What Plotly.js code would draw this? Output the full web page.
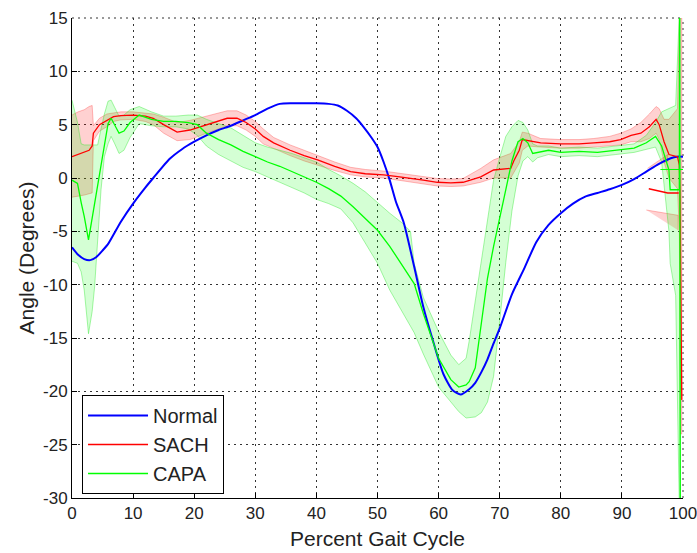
<!DOCTYPE html>
<html>
<head>
<meta charset="utf-8">
<script src="https://cdn.plot.ly/plotly-3.0.1.min.js"></script>
<style>html,body{margin:0;padding:0;background:#fff;}#chart{width:697px;height:553px;}</style>
</head>
<body>
<div id="chart"></div>
<script>
// ---- Normal ----
const normalX = [0,1,2,3,4,5,6,8,10,12,13.3,16,18,20,22,24,26,28,30,32,34,36,38,40,42,43.5,45,46.5,47.7,49,50,51,52,53,54.3,56,57.5,59.2,60.8,62.3,63.6,65,66,67,68,69,70,72,74,76,78,80,82,84,86,88,90,92,94,96,98,99,100];
const normalY = [-6.5,-7.2,-7.6,-7.7,-7.4,-6.8,-6.1,-4.1,-2.4,-0.9,0.0,1.8,2.7,3.4,4.0,4.5,4.9,5.4,5.9,6.5,6.95,7.0,7.0,7.0,6.95,6.8,6.3,5.6,4.8,3.8,2.9,1.5,-0.2,-2.2,-4.2,-8.3,-12.1,-15.5,-18.4,-19.9,-20.3,-19.8,-19.2,-18.2,-17.0,-15.5,-14.1,-10.9,-8.5,-6.0,-4.4,-3.3,-2.4,-1.75,-1.4,-1.05,-0.65,-0.1,0.6,1.3,1.85,2.0,2.0];

// ---- SACH ----
const sachX = [0,1,2,2.8,3.3,3.5,4.5,5.7,6.8,8,10,12,13.3,15,17.2,19.3,22,25.4,27,28.5,30,31.3,33,35.7,38,40.2,43,45.6,48,51,53,55.4,57.5,59.8,62,64,66.9,69,71.8,72.3,73.2,73.7,74.6,76.7,80,83,85.4,88,89.8,91.5,93.1,94.5,95.6,96.1,96.9,97.7,99.1,99.4,99.5,99.6,99.7,99.8];
const sachMean = [2.0,2.2,2.4,2.6,3.0,4.2,5.0,5.4,5.75,5.85,5.9,5.8,5.6,5.0,4.3,4.5,5.0,5.6,5.6,5.2,4.6,3.9,3.3,2.6,2.1,1.7,1.1,0.6,0.4,0.3,0.15,0.0,-0.2,-0.4,-0.45,-0.4,0.1,0.75,0.9,1.6,2.6,3.6,3.5,3.3,3.2,3.2,3.3,3.4,3.6,4.0,4.2,4.8,5.5,5.0,3.4,2.2,2.0,1.2,-1.3,-11.7,-14.3,-20.8];
const sachUpper = [5.9,6.2,6.4,6.7,6.8,4.9,5.6,6.0,6.1,6.2,6.2,6.1,6.0,5.7,5.2,5.4,5.8,6.3,6.3,5.9,5.3,4.6,3.8,3.1,2.6,2.1,1.5,1.0,0.8,0.65,0.5,0.35,0.15,-0.05,-0.1,-0.05,0.9,1.7,2.3,2.7,3.4,4.3,4.2,3.7,3.6,3.6,3.7,3.9,4.2,4.6,5.2,6.0,6.7,6.5,5.5,5.5,6.5,15,15,15,15,15];
const sachLower = [-1.8,-1.7,-1.6,-1.5,-1.4,3.5,4.4,4.8,5.3,5.45,5.5,5.3,5.0,4.2,3.5,3.6,4.2,4.9,4.9,4.5,3.9,3.2,2.8,2.1,1.6,1.2,0.7,0.3,0.1,0.0,-0.2,-0.35,-0.55,-0.75,-0.8,-0.75,-0.4,0.0,0.0,0.5,1.4,2.6,3.0,2.9,2.8,2.8,2.9,3.0,3.1,3.4,3.4,3.7,4.2,3.6,1.5,0.0,-1.0,-5,-15,-24,-24,-24];

// ---- CAPA ----
const capaX = [0,0.9,1.5,2.0,2.7,3.3,3.7,4.2,4.75,5.3,5.9,6.4,7.0,7.7,8.5,9.5,11,13,15,17,19,20.5,22,24,26,28,30,32,34,36,38,40,42,44,46,48,50,52,54,55.4,56,57.5,60,62,63.3,64.5,65,66,67,68,69,70,71,72,73,73.8,74.6,75.4,76.2,78,80,83,86,89,92,94,95.5,96.5,97.7,97.9,98.8,99.4,99.45,99.55];
const capaMean = [-0.2,-0.5,-2.3,-3.6,-5.8,-3.7,-2.3,-0.6,1.4,3.2,5.1,5.6,5.0,4.2,4.4,5.2,5.9,5.5,5.3,5.3,5.2,5.0,4.2,3.6,3.1,2.5,2.0,1.5,1.1,0.6,0.1,-0.4,-1.0,-1.7,-2.7,-3.8,-4.9,-6.4,-8.2,-9.4,-9.9,-12.7,-16.9,-18.9,-19.6,-19.4,-19.1,-17.8,-13.4,-9.4,-6.4,-3.9,-1.1,1.6,3.4,3.7,3.3,2.3,2.4,2.6,2.4,2.5,2.4,2.6,2.8,3.3,3.9,3.0,0.75,-1.1,-1.1,-1.1,16,-31];
const capaUpper = [7.3,5.2,3.2,3.1,3.1,3.1,3.1,3.1,4.6,6.0,7.2,7.3,6.6,5.8,5.9,6.4,6.7,6.2,5.8,5.8,5.9,5.9,5.5,5.1,4.7,4.0,3.3,2.9,2.6,2.3,1.9,1.5,0.8,0.2,-0.5,-1.3,-2.3,-3.3,-4.2,-5.0,-8.0,-11.2,-14.4,-16.6,-17.5,-16.9,-15.3,-11.5,-8.0,-3.9,-0.2,1.9,3.9,4.8,5.4,5.2,4.5,3.2,3.0,3.0,2.8,2.9,2.8,3.0,3.2,4.0,5.2,6.2,6.5,6.5,6.8,15.5,16,16];
const capaLower = [-7.8,-8.0,-8.8,-10.5,-14.6,-12.5,-10.2,-5.8,-1.1,2.0,3.2,3.9,3.2,2.3,2.6,3.8,5.1,4.9,4.8,4.8,4.6,4.0,3.0,2.2,1.6,1.0,0.6,0.1,-0.4,-0.9,-1.4,-2.0,-2.4,-2.9,-4.2,-6.1,-8.0,-10.5,-12.5,-13.9,-14.5,-16.5,-19.6,-21.0,-21.9,-22.5,-22.5,-22.4,-22.0,-21.0,-18.6,-13.4,-7.9,-3.1,0.2,1.6,2.0,1.5,1.9,2.2,2.0,2.1,2.0,2.2,2.4,2.7,2.9,1.5,-5,-8,-11,-31,-31,-31];

// ---- stray end-of-cycle fragments ----
const sachDashX = [94.4,96.0,97.5,99.3];
const sachDashY = [-1.0,-1.2,-1.4,-1.4];
const sachWedge1X = [94.0,99.2,99.2];
const sachWedge1Y = [-3.0,-3.5,-4.9];
const sachWedge2X = [94.2,97.5,97.5];
const sachWedge2Y = [0.9,2.2,1.5];
const capaTailX = [96.3,100];
const capaTailY = [0.8,0.8];

const xTicks = [0,10,20,30,40,50,60,70,80,90,100];
const yTicks = [-30,-25,-20,-15,-10,-5,0,5,10,15];
const xRange = [0,100];
const yRange = [-30,15];

function band(xs, up, lo){
  return {x: xs.concat(xs.slice().reverse()), y: up.concat(lo.slice().reverse())};
}
const sb = band(sachX, sachUpper, sachLower);
const cb = band(capaX, capaUpper, capaLower);

const RED_FILL = 'rgba(255,0,0,0.18)', RED_EDGE = 'rgba(255,60,60,0.35)';
const GRN_FILL = 'rgba(0,255,0,0.17)', GRN_EDGE = 'rgba(40,230,40,0.4)';

const traces = [
  {x: sb.x, y: sb.y, type:'scatter', mode:'lines', fill:'toself', fillcolor:RED_FILL, line:{color:RED_EDGE, width:1}, showlegend:false, hoverinfo:'skip'},
  {x: sachWedge1X, y: sachWedge1Y, type:'scatter', mode:'lines', fill:'toself', fillcolor:RED_FILL, line:{color:RED_EDGE, width:1}, showlegend:false, hoverinfo:'skip'},
  {x: sachWedge2X, y: sachWedge2Y, type:'scatter', mode:'lines', fill:'toself', fillcolor:RED_FILL, line:{color:RED_EDGE, width:1}, showlegend:false, hoverinfo:'skip'},
  {x: cb.x, y: cb.y, type:'scatter', mode:'lines', fill:'toself', fillcolor:GRN_FILL, line:{color:GRN_EDGE, width:1}, showlegend:false, hoverinfo:'skip'},
  {x: normalX, y: normalY, type:'scatter', mode:'lines', name:'Normal', line:{color:'#0000ff', width:2, shape:'spline', smoothing:0.6}},
  {x: sachX, y: sachMean, type:'scatter', mode:'lines', name:'SACH', line:{color:'#ff0000', width:1.3}},
  {x: capaX, y: capaMean, type:'scatter', mode:'lines', name:'CAPA', line:{color:'#00ff00', width:1.3}},
  {x: sachDashX, y: sachDashY, type:'scatter', mode:'lines', line:{color:'#ff0000', width:1.5}, showlegend:false},
  {x: capaTailX, y: capaTailY, type:'scatter', mode:'lines', line:{color:'#00ff00', width:1}, showlegend:false}
];

const FONT = 'Liberation Sans, Arial, Helvetica, sans-serif';
const GRID = {color:'#333', width:1, dash:'2px,4px'};
const axisCommon = {
  showline:true, linecolor:'#000', linewidth:1, mirror:false,
  ticks:'inside', ticklen:5, tickcolor:'#000', tickwidth:1,
  showgrid:true, gridcolor:GRID.color, gridwidth:GRID.width, griddash:GRID.dash,
  zeroline:false, ticklabeloverflow:'allow', tickfont:{family:FONT, size:17, color:'#222'}
};

const layout = {
  width:697, height:553,
  margin:{l:72, r:14, t:18, b:55},
  paper_bgcolor:'#fff', plot_bgcolor:'#fff',
  showlegend:true,
  legend:{x:0.0164, y:0.2146, xanchor:'left', yanchor:'top', bgcolor:'#fff', bordercolor:'#000', borderwidth:1,
          font:{family:FONT, size:20, color:'#222'}, itemwidth:60},
  shapes:[
    {type:'line', xref:'paper', yref:'paper', x0:0, x1:1, y0:1, y1:1, layer:'below', line:{color:GRID.color, width:1, dash:GRID.dash}},
    {type:'line', xref:'paper', yref:'paper', x0:1, x1:1, y0:0, y1:1, layer:'below', line:{color:GRID.color, width:1, dash:GRID.dash}}
  ],
  xaxis: Object.assign({}, axisCommon, {range:xRange, tickvals:xTicks, ticktext:xTicks.map(String),
          title:{text:'Percent Gait Cycle', font:{family:FONT, size:21, color:'#222'}, standoff:8}}),
  yaxis: Object.assign({}, axisCommon, {range:yRange, tickvals:yTicks, ticktext:yTicks.map(String),
          title:{text:'Angle (Degrees)', font:{family:FONT, size:21, color:'#222'}, standoff:2}})
};

Plotly.newPlot('chart', traces, layout, {displayModeBar:false, staticPlot:true});
</script>
</body>
</html>
